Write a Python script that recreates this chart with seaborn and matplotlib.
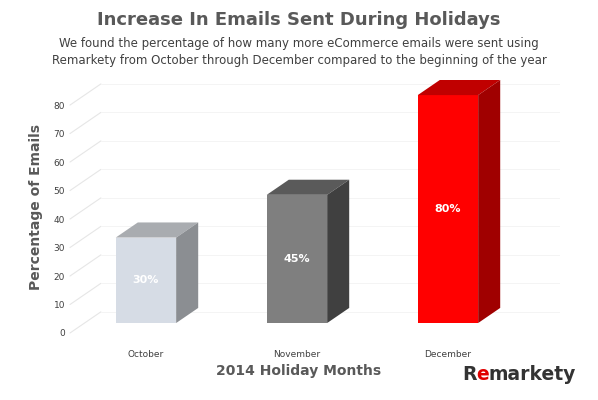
import matplotlib
matplotlib.use("Agg")
import matplotlib.pyplot as plt
import seaborn as sns
import pandas as pd
from matplotlib.patches import Polygon

months = ["October", "November", "December"]
values = [30, 45, 80]
labels = ["30%", "45%", "80%"]
yticks = [0, 10, 20, 30, 40, 50, 60, 70, 80]
front = ["#d6dce5", "#7f7f7f", "#ff0000"]
top = ["#a9acb0", "#5a5a5a", "#c00000"]
side = ["#8b8e92", "#404040", "#a00000"]

sns.set_style("white")
plt.rcParams['font.family'] = ['DejaVu Sans']
fig = plt.figure(figsize=(5.98, 4.0), dpi=100)
ax = fig.add_axes([70/598, 0.1675, 490/598, 0.6325])
df = pd.DataFrame({"m": months, "v": values})
sns.barplot(data=df, x="m", y="v", hue="m", palette=front, width=0.40,
            legend=False, ax=ax, saturation=1, linewidth=0)
ax.set_xlim(-0.503, 2.742)
ax.set_ylim(0, 88.8)
dx, dy = 0.146, 5.3
base = 3.5
# back grid
for t in yticks:
    ax.plot([-0.503, -0.503+dx*1.4], [t, t+dy*1.4], color="#e6e6e6", lw=0.8, zorder=0, clip_on=False)
    ax.plot([-0.503+dx*1.4, 2.742], [t+dy*1.4, t+dy*1.4], color="#f2f2f2", lw=0.6, zorder=0)
for i, p in enumerate(ax.patches):
    p.set_y(base)
    x0, w, h = p.get_x(), p.get_width(), p.get_height()
    b = base
    ax.add_patch(Polygon([(x0, b+h), (x0+w, b+h), (x0+w+dx, b+h+dy), (x0+dx, b+h+dy)],
                         closed=True, fc=top[i], ec="none", zorder=3))
    ax.add_patch(Polygon([(x0+w, b), (x0+w+dx, b+dy), (x0+w+dx, b+h+dy), (x0+w, b+h)],
                         closed=True, fc=side[i], ec="none", zorder=3))
    ax.text(x0+w/2, b+h/2, labels[i], color="white", ha="center", va="center",
            fontsize=8, fontweight="bold", zorder=4)
ax.set_yticks(yticks)
ax.tick_params(axis="both", labelsize=6.5, colors="#404040", length=0)
ax.tick_params(axis="x", pad=12)
for s in ax.spines.values():
    s.set_visible(False)
ax.set_xlabel("")
ax.set_ylabel("Percentage of Emails", fontsize=10, fontweight="bold", color="#595959", labelpad=8)
fig.text(0.5, 1-371/400, "2014 Holiday Months", ha="center", va="center",
         fontsize=10, fontweight="bold", color="#595959")
fig.text(0.5, 1-20/400, "Increase In Emails Sent During Holidays", ha="center", va="center",
         fontsize=13, fontweight="bold", color="#595959")
fig.text(0.5, 1-52/400, "We found the percentage of how many more eCommerce emails were sent using\nRemarkety from October through December compared to the beginning of the year",
         ha="center", va="center", fontsize=8.5, color="#404040", linespacing=1.4)
fig.text(462/598, 1-375/400, "R", fontsize=13.5, fontweight="bold", color="#333333", va="center")
fig.text(476/598, 1-375/400, "e", fontsize=13.5, fontweight="bold", color="#e00000", va="center")
fig.text(488/598, 1-375/400, "markety", fontsize=13.5, fontweight="bold", color="#333333", va="center")
fig.savefig("out.png", dpi=100)
